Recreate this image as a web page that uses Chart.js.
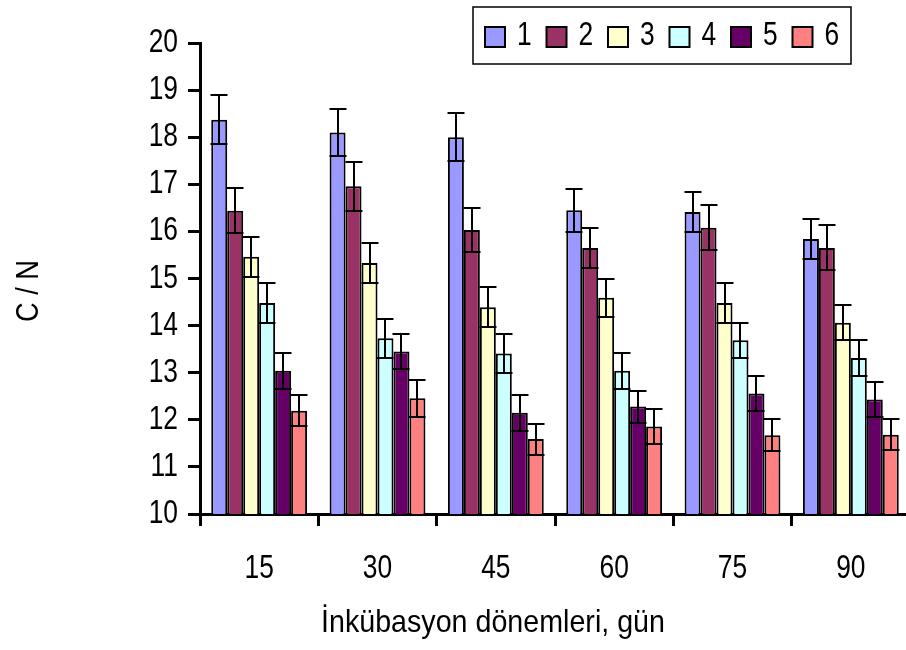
<!DOCTYPE html>
<html>
<head>
<meta charset="utf-8">
<script src="https://cdn.jsdelivr.net/npm/chart.js@4/dist/chart.umd.min.js"></script>
<style>
  html, body { margin: 0; padding: 0; background: #fff; overflow: hidden; }
  #wrap { width: 912px; height: 650px; position: relative; }
</style>
</head>
<body>
<div id="wrap"><canvas id="c" width="912" height="650"></canvas></div>
<script>
// Incubation periods (days)
const categories = ['15', '30', '45', '60', '75', '90'];
const seriesNames = ['1', '2', '3', '4', '5', '6'];

// C/N ratio per treatment
const s1 = [18.37, 18.10, 18.00, 16.45, 16.41, 15.84];
const s2 = [16.44, 16.96, 16.03, 15.65, 16.08, 15.65];
const s3 = [15.46, 15.33, 14.39, 14.59, 14.48, 14.06];
const s4 = [14.48, 13.73, 13.41, 13.04, 13.69, 13.31];
const s5 = [13.04, 13.45, 12.15, 12.28, 12.56, 12.43];
const s6 = [12.19, 12.46, 11.59, 11.86, 11.67, 11.68];

// Standard deviations (± error bars)
const e1 = [0.52, 0.50, 0.51, 0.46, 0.42, 0.42];
const e2 = [0.48, 0.52, 0.47, 0.42, 0.47, 0.48];
const e3 = [0.43, 0.42, 0.42, 0.41, 0.42, 0.37];
const e4 = [0.43, 0.42, 0.41, 0.38, 0.37, 0.38];
const e5 = [0.38, 0.38, 0.38, 0.34, 0.37, 0.37];
const e6 = [0.33, 0.39, 0.33, 0.37, 0.34, 0.33];

const yTicks = [10, 11, 12, 13, 14, 15, 16, 17, 18, 19, 20];

const colors = ['#9999FF', '#993366', '#FFFFCC', '#CCFFFF', '#660066', '#FF8080'];
const values = [s1, s2, s3, s4, s5, s6];
const errors = [e1, e2, e3, e4, e5, e6];

const FONT = "'Liberation Sans', Arial, sans-serif";

// Draw text condensed horizontally (narrow face look)
function narrowText(ctx, text, x, y, align, size, sx) {
  ctx.save();
  ctx.translate(x, y);
  ctx.scale(sx, 1);
  ctx.font = size + 'px ' + FONT;
  ctx.textAlign = align;
  ctx.textBaseline = 'middle';
  ctx.fillStyle = '#000';
  ctx.fillText(text, 0, 0);
  ctx.restore();
}

const errorBars = {
  id: 'errorBars',
  afterDatasetsDraw(chart) {
    const ctx = chart.ctx;
    const y = chart.scales.y;
    ctx.save();
    ctx.strokeStyle = '#000';
    ctx.lineWidth = 2;
    chart.data.datasets.forEach((ds, i) => {
      const meta = chart.getDatasetMeta(i);
      meta.data.forEach((bar, j) => {
        const v = ds.data[j];
        const e = ds.errors[j];
        const yt = Math.round(y.getPixelForValue(v + e));
        const yb = Math.round(y.getPixelForValue(v - e));
        const x = Math.round(bar.x);
        const hw = bar.width / 2 + 0.5;
        ctx.beginPath();
        ctx.moveTo(x, yt); ctx.lineTo(x, yb);
        ctx.moveTo(x - hw, yt); ctx.lineTo(x + hw, yt);
        ctx.moveTo(x - hw, yb); ctx.lineTo(x + hw, yb);
        ctx.stroke();
      });
    });
    ctx.restore();
  }
};

const labelsAndLegend = {
  id: 'labelsAndLegend',
  afterDraw(chart) {
    const ctx = chart.ctx;
    const xs = chart.scales.x;
    const ys = chart.scales.y;

    // tick labels
    ys.ticks.forEach(t => {
      narrowText(ctx, String(t.value), 178, ys.getPixelForValue(t.value), 'right', 33, 0.8);
    });
    xs.ticks.forEach((t, i) => {
      narrowText(ctx, categories[i], xs.getPixelForTick(i), 569, 'center', 33, 0.8);
    });

    // axis titles
    narrowText(ctx, 'İnkübasyon dönemleri, gün', 493, 623, 'center', 32, 0.895);
    ctx.save();
    ctx.translate(29, 291);
    ctx.rotate(-Math.PI / 2);
    narrowText(ctx, 'C / N', 0, 0, 'center', 32, 0.85);
    ctx.restore();

    // legend
    ctx.save();
    ctx.fillStyle = '#fff';
    ctx.fillRect(473, 7, 378, 57);
    ctx.strokeStyle = '#000';
    ctx.lineWidth = 1.5;
    ctx.strokeRect(473, 7, 378, 57);
    chart.data.datasets.forEach((ds, i) => {
      const bx = 485 + i * 61.5;
      ctx.fillStyle = ds.backgroundColor;
      ctx.fillRect(bx, 27, 20, 20);
      ctx.lineWidth = 2;
      ctx.strokeStyle = '#000';
      ctx.strokeRect(bx, 27, 20, 20);
      narrowText(ctx, ds.label, bx + 32, 36, 'left', 33, 0.8);
    });
    ctx.restore();
  }
};

new Chart(document.getElementById('c'), {
  type: 'bar',
  data: {
    labels: categories,
    datasets: values.map((vals, i) => ({
      label: seriesNames[i],
      data: vals,
      errors: errors[i],
      backgroundColor: colors[i],
      borderColor: '#000',
      borderWidth: 2,
      categoryPercentage: 0.81,
      barPercentage: 1.0
    }))
  },
  options: {
    responsive: false,
    animation: false,
    devicePixelRatio: 1,
    layout: { padding: { top: 43, right: 2, left: 0, bottom: 0 } },
    plugins: { legend: { display: false }, tooltip: { enabled: false } },
    scales: {
      x: {
        offset: true,
        grid: { offset: true, drawOnChartArea: false, drawTicks: true, tickLength: 12, tickWidth: 3, tickColor: '#000' },
        border: { display: true, color: '#000', width: 3 },
        ticks: { display: false },
        afterFit(scale) { scale.height = 136; }
      },
      y: {
        min: 10,
        max: 20,
        afterBuildTicks(scale) { scale.ticks = yTicks.map(v => ({ value: v })); },
        grid: { drawOnChartArea: false, drawTicks: true, tickLength: 12, tickWidth: 3, tickColor: '#000' },
        border: { display: true, color: '#000', width: 3 },
        ticks: { display: false },
        afterFit(scale) { scale.width = 200; }
      }
    }
  },
  plugins: [errorBars, labelsAndLegend]
});
</script>
</body>
</html>
